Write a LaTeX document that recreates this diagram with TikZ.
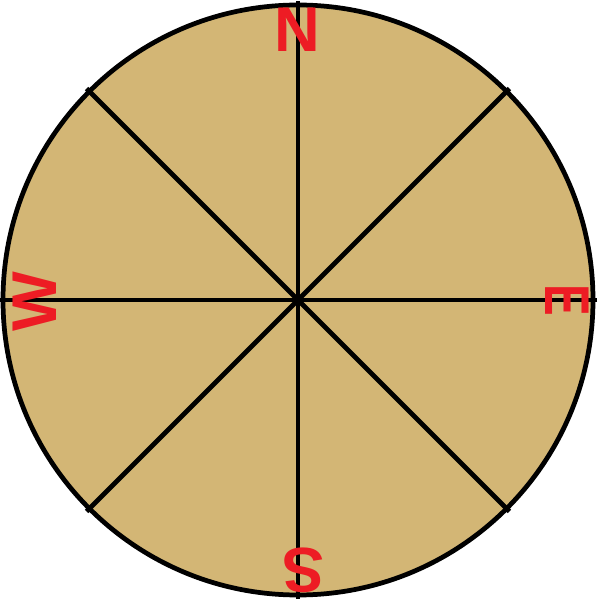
\documentclass[tikz,border=0pt]{standalone}
\usepackage{fontspec}
\setsansfont{Liberation Sans}
\usepackage{xcolor}
\definecolor{dialtan}{RGB}{211, 182, 117}
\definecolor{pointred}{RGB}{237, 28, 36}
\usepackage{tikz}
\usetikzlibrary{calc}

\begin{document}
\begin{tikzpicture}[
  dial/.style={draw=black, fill=dialtan, line width=1.35pt},
  spoke/.style={draw=black, line width=1.35pt},
  point/.style={text=pointred, font=\fontsize{18}{18}\selectfont\sffamily\bfseries, inner sep=0pt, anchor=center}
]
\useasboundingbox (0,0) rectangle (6,6);
\coordinate (o) at (2.98,3.0);
\path[dial] (o) circle (2.95);
\foreach \ang in {0,45,...,135} {
  \draw[spoke] ($(o)+(\ang:2.99)$) -- ($(o)+(\ang+180:2.99)$);
}
\node[point] (north) at (2.975,5.70) {N};
\node[point, rotate=-90] (east) at (5.67,3.0) {\scalebox{0.75}[1]{E}};
\node[point, rotate=180] (south) at (3.03,0.30) {S};
\node[point, rotate=90] (west) at (0.345,2.98) {W};
\end{tikzpicture}
\end{document}
